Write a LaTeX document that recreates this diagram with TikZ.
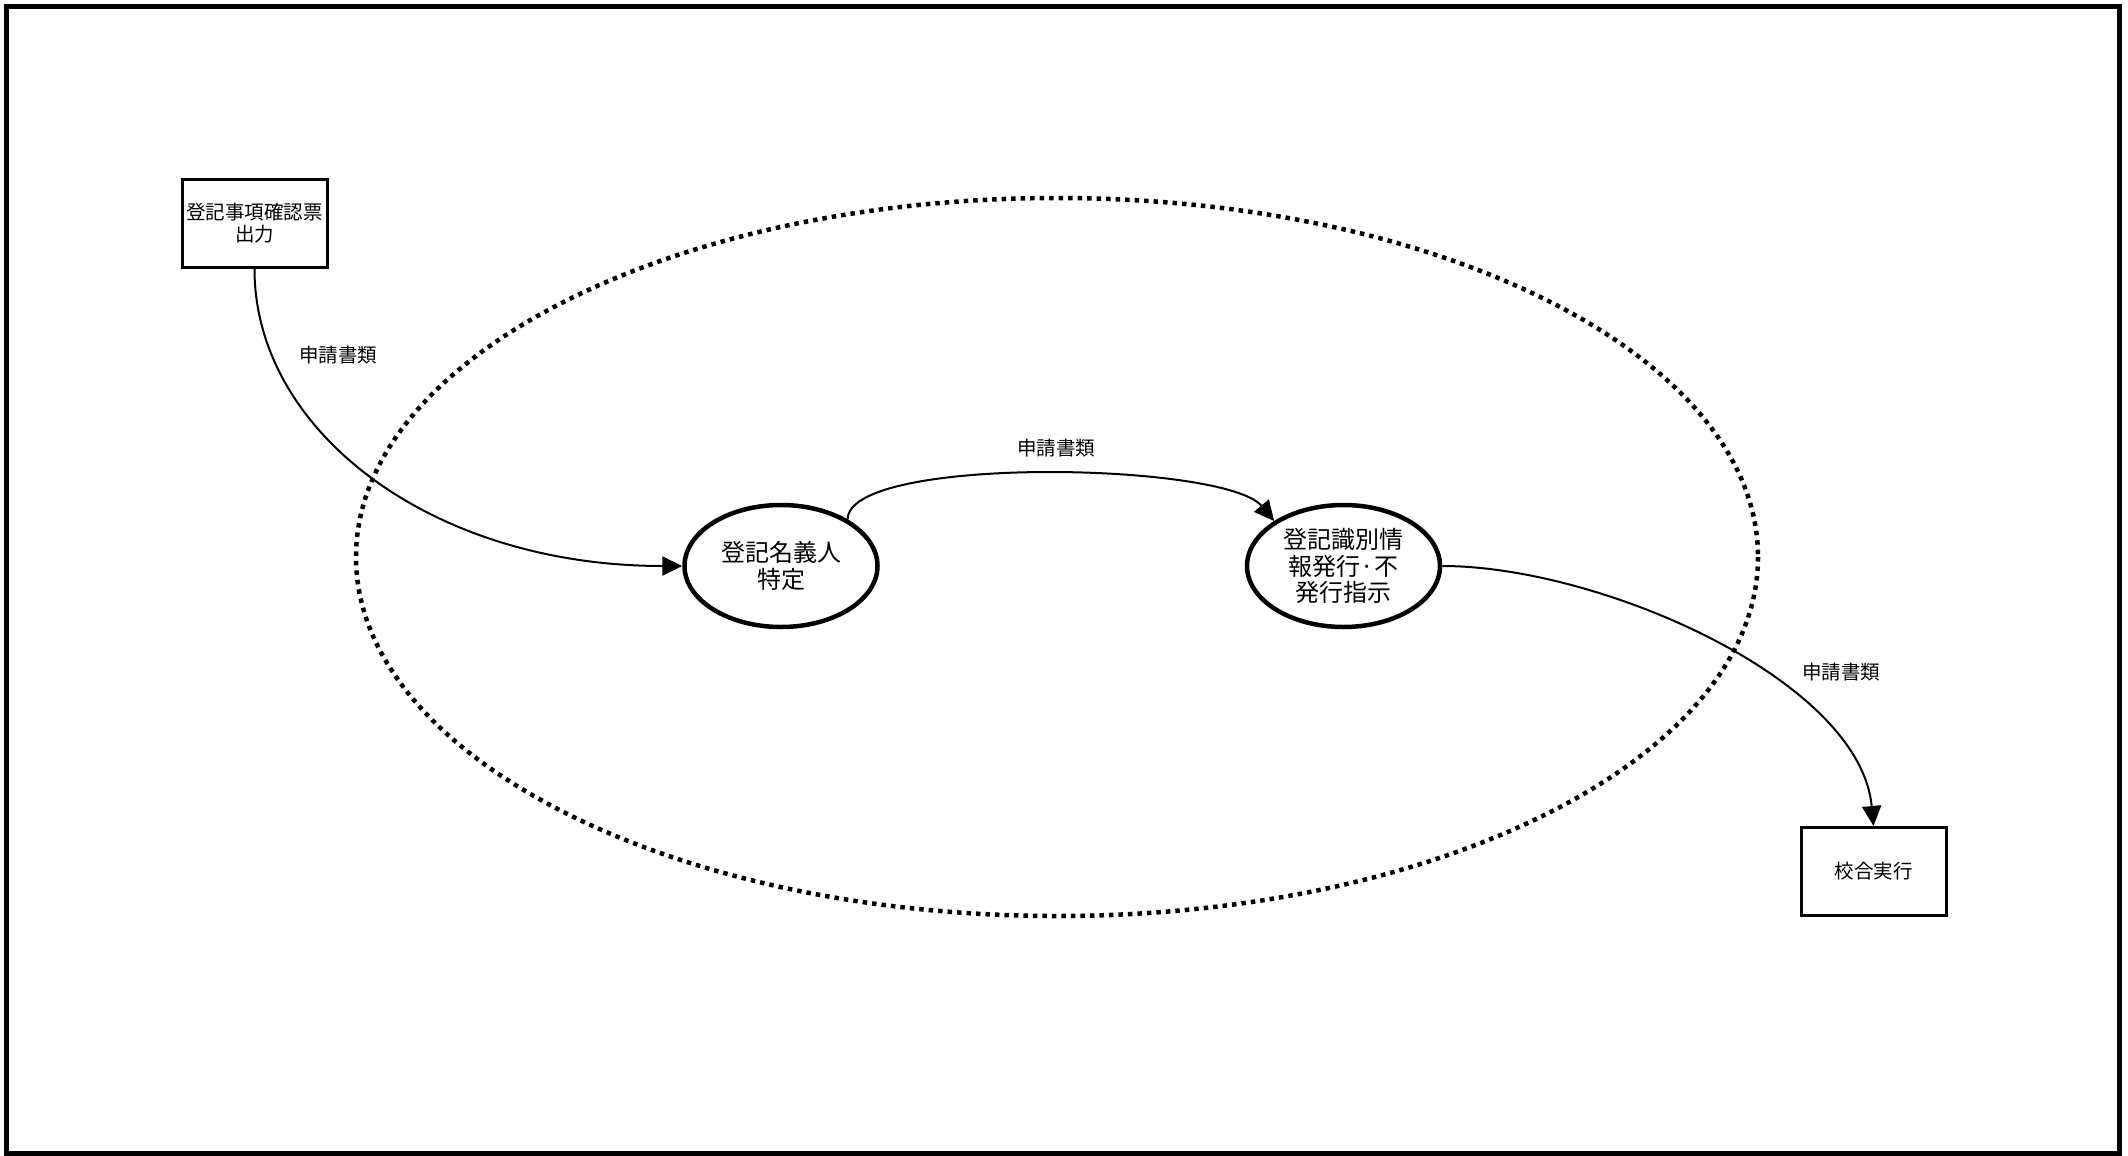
\documentclass[tikz,border=0pt]{standalone}
\usepackage{fontspec}
\setmainfont{Noto Sans CJK JP}
\usetikzlibrary{arrows.meta,shapes.geometric}
\begin{document}
\begin{tikzpicture}[x=1pt,y=-1pt,
  boxnode/.style={draw,line width=3pt,rectangle,minimum width=145pt,minimum height=88pt,inner sep=0pt,align=center,font=\fontsize{19.5pt}{21.5pt}\selectfont},
  procnode/.style={draw,line width=4.5pt,ellipse,minimum width=193pt,minimum height=122pt,inner sep=0pt,align=center,font=\fontsize{24pt}{26.5pt}\selectfont},
  lbl/.style={inner sep=0pt,font=\fontsize{19.5pt}{21.5pt}\selectfont},
  edge/.style={line width=2pt,-{Triangle[length=20pt,width=19pt]}},
  boundary/.style={line width=4.5pt,dash pattern=on 4.5pt off 5pt}
]
\useasboundingbox (0,0) rectangle (2128,1156);
\draw[line width=5pt] (6.5,6.5) rectangle (2119.5,1153.5);
\draw[boundary] (1057,557) ellipse [x radius=701, y radius=359];
\node[boxnode] (a) at (254.5,223) {登記事項確認票\\出力};
\node[boxnode] (b) at (1873.5,871.5) {校合実行};
\node[procnode] (e1) at (781,566) {登記名義人\\特定};
\node[procnode] (e2) at (1343.5,566) {登記識別情\\報発行·不\\発行指示};
\draw[edge] (a.south) .. controls (254,430) and (430,566) .. (e1.west);
\draw[edge] (e1.35) .. controls (848,455) and (1225,462) .. (e2.147);
\draw[edge] (e2.east) .. controls (1600,566) and (1860,680) .. (b.north);
\node[lbl] (l1) at (338,355) {申請書類};
\node[lbl] (l2) at (1056,448) {申請書類};
\node[lbl] (l3) at (1841,672) {申請書類};
\end{tikzpicture}
\end{document}
